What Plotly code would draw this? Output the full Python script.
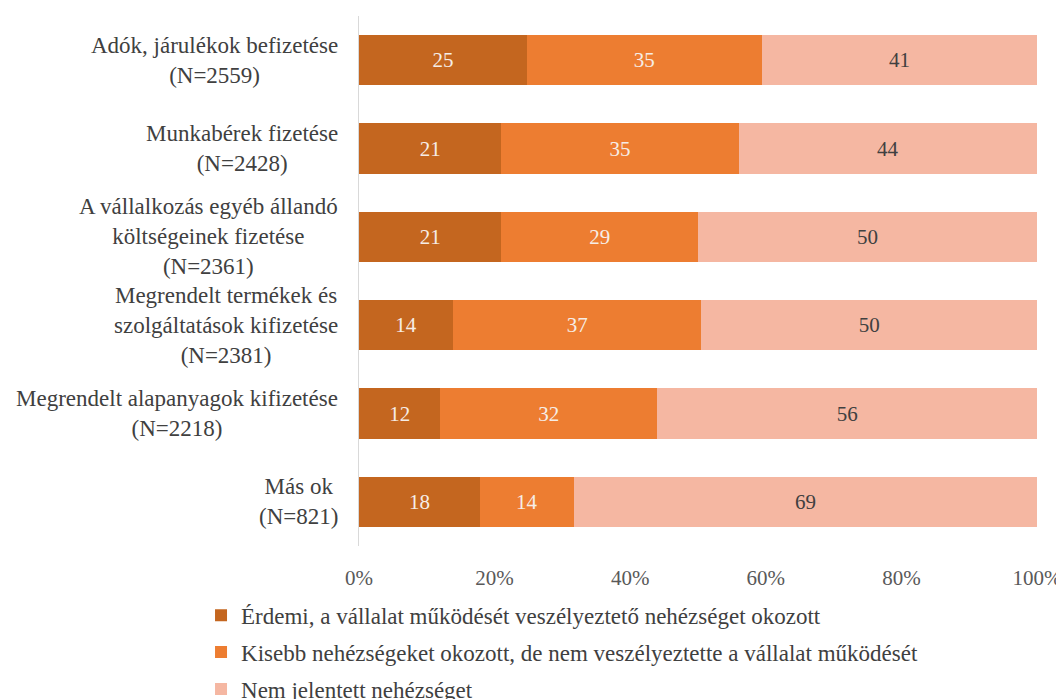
import plotly.graph_objects as go

categories = [
    "Adók, járulékok befizetése<br>(N=2559)",
    "Munkabérek fizetése<br>(N=2428)",
    "A vállalkozás egyéb állandó<br>költségeinek fizetése<br>(N=2361)",
    "Megrendelt termékek és<br>szolgáltatások kifizetése<br>(N=2381)",
    "Megrendelt alapanyagok kifizetése<br>(N=2218)",
    "Más ok<br>(N=821)",
]
serious = [25, 21, 21, 14, 12, 18]
minor = [35, 35, 29, 37, 32, 14]
none_ = [41, 44, 50, 50, 56, 69]
series_names = [
    "Érdemi, a vállalat működését veszélyeztető nehézséget okozott",
    "Kisebb nehézségeket okozott, de nem veszélyeztette a vállalat működését",
    "Nem jelentett nehézséget",
]
colors = ["#C4661F", "#ED7D31", "#F5B7A2"]
text_colors = ["#F6EDE6", "#F6EDE6", "#404040"]

FONT = "Liberation Serif"
FS = 23
fig = go.Figure()
for i, (name, vals) in enumerate(zip(series_names, [serious, minor, none_])):
    fig.add_trace(go.Bar(
        y=categories, x=vals, name=name, orientation="h",
        marker=dict(color=colors[i], line=dict(width=0)),
        text=[str(v) for v in vals], texttemplate="%{text}",
        textposition="inside", insidetextanchor="middle",
        textfont=dict(color=text_colors[i], size=21, family=FONT),
        legendgroup=f"g{i}",
    ))

for c in categories:
    fig.add_annotation(
        x=0, xref="paper", y=c, yref="y", text=c, showarrow=False,
        xanchor="right", yanchor="middle", align="center", xshift=-19,
        font=dict(size=FS, family=FONT, color="#404040"),
    )

fig.update_layout(
    barmode="stack", barnorm="percent", bargap=0.43,
    width=1064, height=699,
    margin=dict(l=351, r=35, t=8, b=161, autoexpand=False),
    plot_bgcolor="white", paper_bgcolor="white",
    font=dict(family=FONT, size=FS, color="#595959"),
    uniformtext=dict(mode="show", minsize=10),
    legend=dict(orientation="v", x=-0.233, xanchor="left", y=-0.09, yanchor="top",
                font=dict(size=FS, family=FONT, color="#404040"),
                tracegroupgap=4, traceorder="grouped", itemwidth=30),
)
fig.update_xaxes(range=[0, 100], tickvals=[0, 20, 40, 60, 80, 100],
                 ticktext=["0%", "20%", "40%", "60%", "80%", "100%"],
                 showgrid=False, zeroline=False, showline=False, ticklen=0,
                 ticklabelstandoff=17,
                 tickfont=dict(size=21, color="#595959"))
fig.update_yaxes(autorange="reversed", showticklabels=False, showgrid=False,
                 zeroline=False, showline=True, linecolor="#D9D9D9", linewidth=1)

fig.write_html("out.html")
